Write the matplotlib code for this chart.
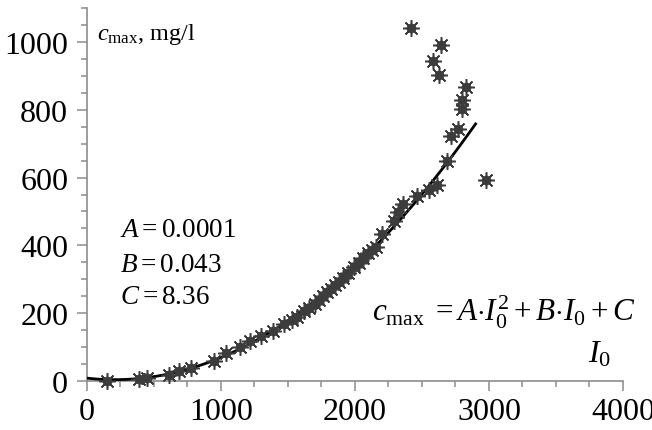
import numpy as np
import matplotlib
matplotlib.use("Agg")
from matplotlib import pyplot as plt
from matplotlib.ticker import MultipleLocator

plt.rcParams['font.family'] = ['Liberation Serif', 'DejaVu Serif']
plt.rcParams['mathtext.fontset'] = 'custom'
plt.rcParams['mathtext.rm'] = 'Liberation Serif'
plt.rcParams['mathtext.it'] = 'Liberation Serif:italic'

# measured points (I0, c_max)
I0 = [150, 390, 450, 610, 690, 780, 950, 1040, 1140, 1220, 1300, 1390,
      1470, 1530, 1570, 1620, 1660, 1700, 1730, 1760, 1790, 1820, 1850,
      1880, 1910, 1950, 1990, 2030, 2060, 2100, 2130, 2160, 2200, 2290,
      2320, 2360, 2460, 2550, 2610, 2690, 2720, 2770, 2800, 2795, 2830,
      2580, 2630, 2645, 2420, 2980]
cmax = [0, 6, 8, 18, 30, 38, 60, 82, 101, 117, 132, 148,
        168, 180, 190, 205, 215, 228, 240, 250, 262, 272, 282,
        292, 305, 318, 335, 348, 362, 378, 386, 396, 434, 473,
        498, 522, 547, 564, 578, 650, 724, 743, 802, 830, 866,
        945, 904, 991, 1041, 594]

# fitted curve coefficients (as drawn)
A_fit, B_fit, C_fit = 1.04e-4, -0.043, 8.36
x_fit = np.linspace(0, 2900, 200)
y_fit = A_fit * x_fit**2 + B_fit * x_fit + C_fit

fig = plt.figure(figsize=(6.52, 4.31), dpi=100)
ax = fig.add_axes([0.1334, 0.1137, 0.8221, 0.8653])

ax.plot(x_fit, y_fit, color='black', lw=2.0, zorder=3)
pt_color = '#3c3c3c'
ax.plot(I0, cmax, ls='none', marker=(8, 2, 0), ms=12, mew=1.1,
        color=pt_color, zorder=4, clip_on=False)
ax.plot(I0, cmax, ls='none', marker='o', ms=7, mew=0,
        color=pt_color, zorder=4, clip_on=False)

ax.set_xlim(0, 4000)
ax.set_ylim(0, 1100)
for s in ['top', 'right']:
    ax.spines[s].set_visible(False)
for s in ['left', 'bottom']:
    ax.spines[s].set_color('#8c8c8c')
    ax.spines[s].set_linewidth(1.2)

ax.xaxis.set_major_locator(MultipleLocator(1000))
ax.xaxis.set_minor_locator(MultipleLocator(250))
ax.yaxis.set_major_locator(MultipleLocator(200))
ax.yaxis.set_minor_locator(MultipleLocator(50))
ax.tick_params(which='major', length=7.5, width=1.1, color='#8c8c8c',
               labelsize=23, direction='out')
ax.tick_params(which='minor', length=4, width=1.1, color='#8c8c8c',
               direction='out')
ax.tick_params(axis='y', pad=6)
ax.tick_params(axis='x', pad=4)

ax.text(75, 1024, r'$c_{\mathrm{max}}$, mg/l', fontsize=17.5, va='center', ha='left')
ax.text(246, 448, r'$A = 0.0001$', fontsize=19.5, va='center')
ax.text(246, 345, r'$B = 0.043$', fontsize=19.5, va='center')
ax.text(246, 248, r'$C = 8.36$', fontsize=19.5, va='center')
ax.text(2130, 206, r'$c_{\mathrm{max}}\;=A{\cdot}I_0^2+B{\cdot}I_0+C$',
        fontsize=22.5, va='center', ha='left')
ax.text(3740, 80, r'$I_0$', fontsize=23, va='center', ha='left')

fig.savefig('out.png', dpi=100)
